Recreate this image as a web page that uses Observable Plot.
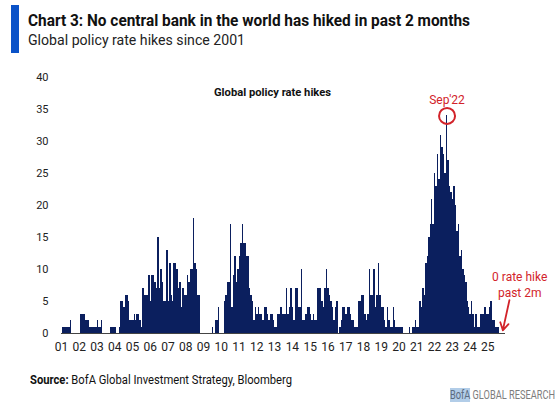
<!DOCTYPE html>
<html>
<head>
<meta charset="utf-8">
<script src="https://cdn.jsdelivr.net/npm/d3@7"></script>
<script src="https://cdn.jsdelivr.net/npm/@observablehq/plot@0.6"></script>
<style>
  html, body { margin: 0; padding: 0; background: #fff; }
  #wrap { position: relative; width: 559px; height: 410px; overflow: hidden; font-family: "Liberation Sans Narrow", Roboto, "Liberation Sans", sans-serif; }
  .abs { position: absolute; white-space: nowrap; line-height: 1; transform-origin: 0 0; }
  #bar { position: absolute; left: 11px; top: 5px; width: 8px; height: 48px; background: #0a52c8; }
  #title { left: 28px; top: 13px; font-size: 16px; font-weight: bold; color: #111; }
  #subtitle { left: 28px; top: 33px; font-size: 15.5px; color: #222; }
  #source { left: 30px; top: 374px; font-size: 12px; color: #111; }
  #brand { left: 450px; top: 389px; font-size: 12px; color: #7d7d7d; }
  #brand span { background: #b2cde8; color: #5a6b80; }
  #chart { position: absolute; left: 0; top: 60px; }
</style>
</head>
<body>
<div id="wrap">
  <div id="bar"></div>
  <div id="title" class="abs">Chart 3: No central bank in the world has hiked in past 2 months</div>
  <div id="subtitle" class="abs">Global policy rate hikes since 2001</div>
  <div id="chart"></div>
  <div id="source" class="abs"><b>Source:</b> BofA Global Investment Strategy, Bloomberg</div>
  <div id="brand" class="abs"><span>BofA</span> GLOBAL RESEARCH</div>
</div>
<script>
// ---- Data (monthly count of global policy rate hikes, Jan 2001 – Oct 2025) ----
const startYear = 2001;
const monthlyHikes = [
  0,1,1,1,1,1,2,0,0,0,0,0,        // 2001
  0,3,3,3,2,2,2,1,1,1,1,1,        // 2002
  2,1,1,2,0,0,0,0,0,1,1,1,        // 2003
  1,0,0,1,5,5,4,6,6,5,2,2,        // 2004
  2,3,2,3,3,2,1,7,6,6,6,9,        // 2005
  5,9,9,8,7,15,7,10,8,5,5,13,     // 2006
  5,11,6,5,11,11,10,7,8,4,7,6,    // 2007
  6,9,8,10,10,18,11,10,6,6,0,0,   // 2008
  0,0,0,0,0,0,1,0,2,2,4,0,        // 2009
  0,0,5,6,8,8,17,4,9,12,8,10,     // 2010
  12,14,17,14,14,12,12,7,6,5,2,4, // 2011
  3,4,3,3,2,4,4,3,2,3,3,2,        // 2012
  1,1,3,3,4,3,3,3,7,3,4,7,        // 2013
  4,2,7,7,4,4,10,2,2,3,4,4,       // 2014
  3,2,3,2,2,7,7,7,5,4,7,10,       // 2015
  7,6,5,4,2,4,5,0,1,2,4,4,        // 2016
  3,4,4,3,2,2,1,1,1,5,5,6,        // 2017
  6,3,2,3,10,6,6,10,4,6,11,6,     // 2018
  4,4,2,1,4,2,1,1,4,2,1,1,        // 2019
  1,1,1,0,0,0,0,1,0,1,1,2,        // 2020
  1,1,5,4,7,6,11,12,15,17,21,17,  // 2021
  25,23,28,24,31,29,28,25,34,27,23,22, // 2022
  21,23,20,16,17,12,13,10,9,8,5,4,     // 2023
  3,5,3,1,3,1,1,3,3,3,4,3,             // 2024
  3,4,5,2,2,1,1,1,0,0                  // 2025 (Jan–Oct)
];
const tickYears = d3.range(2001, 2026);
const xTickLabels = ["01","02","03","04","05","06","07","08","09","10","11","12","13","14","15","16","17","18","19","20","21","22","23","24","25"];
const yTicks = [0,5,10,15,20,25,30,35,40];

// Annotations
const peakLabel = ["Sep'22"];
const peakMonth = [2022 + 8/12];
const peakValue = [34];
const noteLines = ["0 rate hike\npast 2m"];

const navy = "#0b1f5e";
const red = "#d2232a";

const data = monthlyHikes.map((v, i) => ({t0: startYear + i / 12, t1: startYear + (i + 1) / 12, v}));
const peak = [{t: peakMonth[0] + 1/24, v: peakValue[0], label: peakLabel[0]}];

const plot = Plot.plot({
  width: 559,
  height: 300,
  marginLeft: 61,
  marginRight: 54,
  marginTop: 17,
  marginBottom: 27,
  style: {fontFamily: "'Liberation Sans Narrow', Roboto, 'Liberation Sans', sans-serif", fontSize: "11px", color: "#222", background: "transparent", overflow: "visible"},
  x: {domain: [2001, 2026]},
  y: {domain: [0, 40]},
  marks: [
    Plot.rect(data, {x1: "t0", x2: "t1", y1: d => 0, y2: "v", fill: navy, shapeRendering: "crispEdges"}),
    Plot.ruleY([0], {stroke: "#444", strokeWidth: 1}),
    Plot.axisY({ticks: yTicks, tickSize: 0, tickPadding: 13, fontSize: 11, label: null}),
    Plot.axisX({ticks: tickYears, tickSize: 0, tickPadding: 9, fontSize: 12, tickFormat: d => xTickLabels[d - 2001], label: null}),
    Plot.text(["Global policy rate hikes"], {x: 2012.88, y: 37.66, text: d => d, fontWeight: "bold", fontSize: 11.5, fill: "#111"}),
    Plot.dot(peak, {x: "t", y: "v", r: 8, stroke: red, strokeWidth: 2, fill: "none"}),
    Plot.text(peak, {x: "t", y: d => d.v + 2.4, text: "label", fill: red, fontSize: 12}),
    Plot.arrow([{x1: 2026.22, y1: 5.2, x2: 2025.85, y2: 0.5}], {x1: "x1", y1: "y1", x2: "x2", y2: "y2", stroke: red, strokeWidth: 1.8, headLength: 7}),
    Plot.text(noteLines, {x: 2026.8, y: 7.7, text: d => d, fill: red, fontSize: 12, lineHeight: 1.33})
  ]
});
document.getElementById("chart").appendChild(plot);

// condense texts to the reference widths
function fit(el, w) {
  const r = el.getBoundingClientRect().width;
  if (r > 0) el.style.transform = `scaleX(${w / r})`;
}
fit(document.getElementById("title"), 442);
fit(document.getElementById("subtitle"), 217);
fit(document.getElementById("source"), 262);
fit(document.getElementById("brand"), 105);
plot.querySelectorAll("text").forEach(t => {
  if (t.textContent === "Global policy rate hikes") {
    t.setAttribute("textLength", 117);
    t.setAttribute("lengthAdjust", "spacingAndGlyphs");
  }
});
</script>
</body>
</html>
